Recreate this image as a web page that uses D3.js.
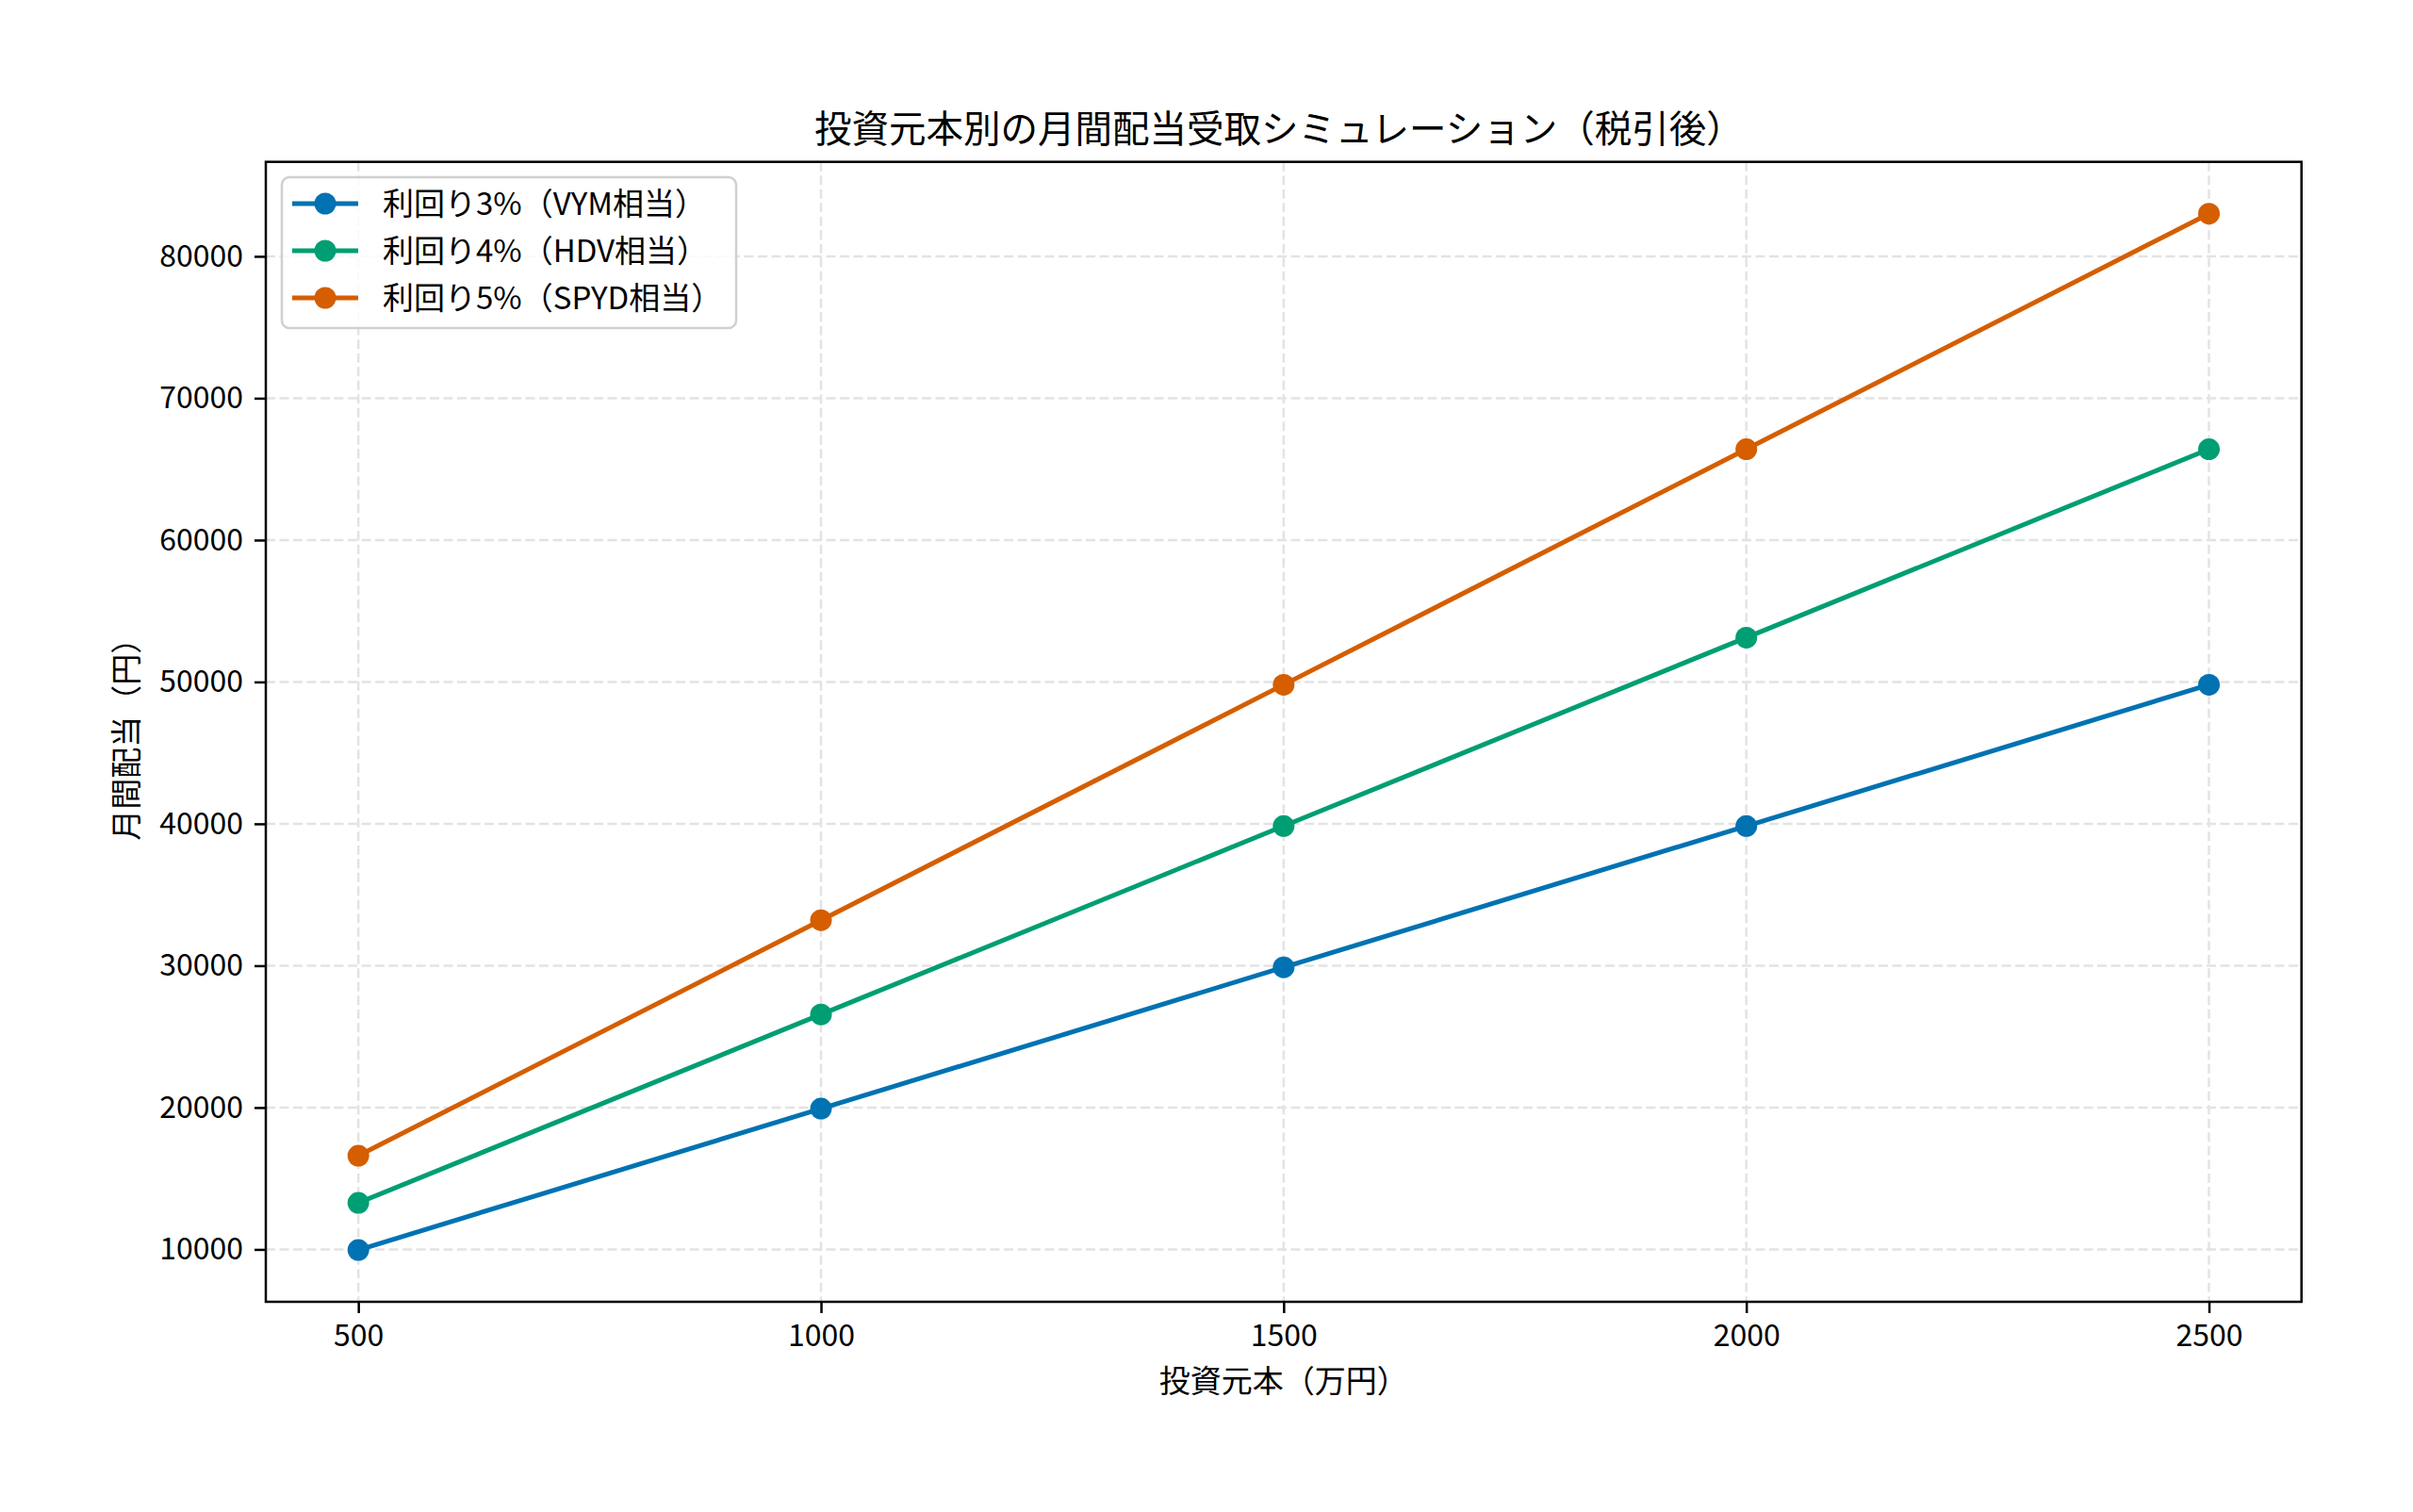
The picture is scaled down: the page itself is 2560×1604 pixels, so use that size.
<!DOCTYPE html>
<html>
<head>
<meta charset="utf-8">
<script src="https://cdn.jsdelivr.net/npm/d3@7"></script>
<style>
  body { margin: 0; background: #fff; }
  text { font-family: "Noto Sans CJK JP", "Noto Sans", sans-serif; fill: #000; }
</style>
</head>
<body>
<script>
const width = 2560
const height = 1604
const margin = {top: 171.7, right: 2560 - 2441.7, bottom: 1604 - 1381, left: 282}

// data
const principal = [500, 1000, 1500, 2000, 2500]
const vym = [9960, 19921, 29882, 39843, 49803]
const hdv = [13281, 26562, 39843, 53124, 66405]
const spyd = [16601, 33202, 49803, 66405, 83006]
const seriesNames = ['利回り3%（VYM相当）', '利回り4%（HDV相当）', '利回り5%（SPYD相当）']
const colors = ['#0072B2', '#009E73', '#D55E00']
const xTicks = [500, 1000, 1500, 2000, 2500]
const yTicks = [10000, 20000, 30000, 40000, 50000, 60000, 70000, 80000]

const series = [vym, hdv, spyd].map((vals, i) => ({
    name: seriesNames[i],
    color: colors[i],
    points: vals.map((v, j) => ({x: principal[j], y: v}))
}))

const svg = d3.select('body').append('svg')
        .attr('width', width)
        .attr('height', height)

// 5% margins like matplotlib
const xMin = d3.min(principal), xMax = d3.max(principal)
const allY = [].concat(vym, hdv, spyd)
const yMin = d3.min(allY), yMax = d3.max(allY)
const xPad = (xMax - xMin) * 0.05, yPad = (yMax - yMin) * 0.05

const xScale = d3.scaleLinear()
        .domain([xMin - xPad, xMax + xPad])
        .range([margin.left, width - margin.right])

const yScale = d3.scaleLinear()
        .domain([yMin - yPad, yMax + yPad])
        .range([height - margin.bottom, margin.top])

// grid
const grid = svg.append('g')
grid.selectAll('.vgrid')
        .data(xTicks)
        .join('line')
        .attr('x1', d => xScale(d)).attr('x2', d => xScale(d))
        .attr('y1', margin.top).attr('y2', height - margin.bottom)
        .attr('stroke', '#e3e3e3').attr('stroke-width', 2.5)
        .attr('stroke-dasharray', '10,4.5')
grid.selectAll('.hgrid')
        .data(yTicks)
        .join('line')
        .attr('x1', margin.left).attr('x2', width - margin.right)
        .attr('y1', d => yScale(d)).attr('y2', d => yScale(d))
        .attr('stroke', '#e3e3e3').attr('stroke-width', 2.5)
        .attr('stroke-dasharray', '10,4.5')

// axes
const xAxis = d3.axisBottom(xScale)
        .tickValues(xTicks)
        .tickFormat(d3.format('d'))
        .tickSize(12)
        .tickPadding(12)
        .tickSizeOuter(0)

svg.append('g')
        .attr('transform', 'translate(0,' + (height - margin.bottom) + ')')
        .call(xAxis)
        .call(g => g.select('.domain').remove())
        .call(g => g.selectAll('line').attr('stroke', '#000').attr('stroke-width', 2.5))
        .call(g => g.selectAll('text').attr('font-size', 32).attr('fill', '#000'))

const yAxis = d3.axisLeft(yScale)
        .tickValues(yTicks)
        .tickFormat(d3.format('d'))
        .tickSize(12)
        .tickPadding(12)
        .tickSizeOuter(0)

svg.append('g')
        .attr('transform', 'translate(' + margin.left + ',0)')
        .call(yAxis)
        .call(g => g.select('.domain').remove())
        .call(g => g.selectAll('line').attr('stroke', '#000').attr('stroke-width', 2.5))
        .call(g => g.selectAll('text').attr('font-size', 32).attr('fill', '#000'))

// frame
svg.append('rect')
        .attr('x', margin.left).attr('y', margin.top)
        .attr('width', width - margin.left - margin.right)
        .attr('height', height - margin.top - margin.bottom)
        .attr('fill', 'none').attr('stroke', '#000').attr('stroke-width', 2.5)

// lines + markers
const line = d3.line().x(d => xScale(d.x)).y(d => yScale(d.y))

series.forEach(s => {
    svg.append('path')
        .datum(s.points)
        .attr('d', line)
        .attr('fill', 'none')
        .attr('stroke', s.color)
        .attr('stroke-width', 5)
    svg.append('g').selectAll('circle')
        .data(s.points)
        .join('circle')
        .attr('cx', d => xScale(d.x))
        .attr('cy', d => yScale(d.y))
        .attr('r', 11.5)
        .attr('fill', s.color)
})

// title + labels
svg.append('text')
        .attr('x', (margin.left + width - margin.right) / 2 - 5)
        .attr('y', 151)
        .attr('text-anchor', 'middle')
        .attr('font-size', 39.5)
        .text('投資元本別の月間配当受取シミュレーション（税引後）')

svg.append('text')
        .attr('x', (margin.left + width - margin.right) / 2)
        .attr('y', 1477)
        .attr('text-anchor', 'middle')
        .attr('font-size', 33)
        .text('投資元本（万円）')

svg.append('text')
        .attr('transform', 'translate(146,' + ((margin.top + height - margin.bottom) / 2) + ') rotate(-90)')
        .attr('text-anchor', 'middle')
        .attr('font-size', 33)
        .text('月間配当（円）')

// legend
const legend = svg.append('g')
legend.append('rect')
        .attr('x', 299).attr('y', 188)
        .attr('width', 482).attr('height', 160)
        .attr('rx', 8)
        .attr('fill', '#fff').attr('fill-opacity', 0.8)
        .attr('stroke', '#d0d0d0').attr('stroke-width', 2.5)

const rows = legend.selectAll('.row')
        .data(series)
        .join('g')
        .attr('transform', (d, i) => 'translate(0,' + (216 + i * 50) + ')')
rows.append('line')
        .attr('x1', 310).attr('x2', 380)
        .attr('stroke', d => d.color).attr('stroke-width', 5)
rows.append('circle')
        .attr('cx', 345).attr('r', 11.5)
        .attr('fill', d => d.color)
rows.append('text')
        .attr('x', 406).attr('y', 11.5)
        .attr('font-size', 33)
        .text(d => d.name)
</script>
</body>
</html>
